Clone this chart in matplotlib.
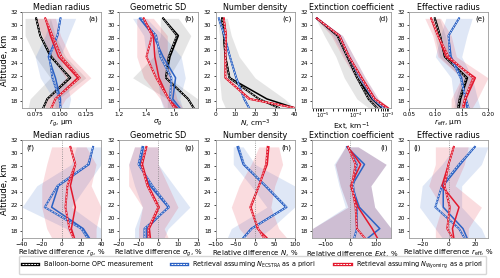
import numpy as np
import matplotlib
matplotlib.use("Agg")
import matplotlib.pyplot as plt
from matplotlib.lines import Line2D

alts = [17, 18.4, 21.7, 25, 28.3, 31]

# ---------- top row: absolute values ----------
# (a) median radius, um
rg_opc = [0.083, 0.087, 0.110, 0.090, 0.080, 0.076]
rg_opc_d = [0.083, 0.087, 0.109, 0.091, 0.080, 0.076]
rg_ecs = [0.100, 0.100, 0.095, 0.088, 0.097, 0.100]
rg_ecs_d = [0.100, 0.099, 0.092, 0.089, 0.097, 0.100]
rg_wyo = [0.091, 0.095, 0.117, 0.098, 0.090, 0.085]
rg_wyo_d = [0.091, 0.095, 0.119, 0.101, 0.092, 0.085]
rg_opc_lo = [0.068, 0.070, 0.090, 0.075, 0.065, 0.065]
rg_opc_hi = [0.098, 0.098, 0.125, 0.105, 0.095, 0.090]
rg_ecs_lo = [0.095, 0.093, 0.080, 0.075, 0.085, 0.090]
rg_ecs_hi = [0.108, 0.110, 0.105, 0.100, 0.108, 0.115]
rg_wyo_lo = [0.085, 0.085, 0.105, 0.090, 0.082, 0.075]
rg_wyo_hi = [0.100, 0.105, 0.130, 0.110, 0.100, 0.095]

# (b) geometric SD
sg_opc = [1.74, 1.70, 1.54, 1.57, 1.63, 1.52]
sg_opc_d = [1.74, 1.70, 1.54, 1.56, 1.62, 1.52]
sg_ecs = [1.64, 1.59, 1.61, 1.52, 1.45, 1.35]
sg_ecs_d = [1.62, 1.57, 1.58, 1.50, 1.47, 1.36]
sg_wyo = [1.62, 1.56, 1.49, 1.46, 1.45, 1.38]
sg_wyo_d = [1.60, 1.56, 1.47, 1.40, 1.44, 1.38]
sg_opc_lo = [1.55, 1.55, 1.30, 1.45, 1.50, 1.50]
sg_opc_hi = [1.77, 1.77, 1.56, 1.65, 1.72, 1.63]
sg_ecs_lo = [1.52, 1.50, 1.48, 1.40, 1.38, 1.30]
sg_ecs_hi = [1.66, 1.64, 1.68, 1.65, 1.52, 1.40]
sg_wyo_lo = [1.53, 1.50, 1.38, 1.33, 1.33, 1.33]
sg_wyo_hi = [1.66, 1.62, 1.58, 1.55, 1.55, 1.45]

# (c) number density, cm-3
n_opc = [40, 26, 7.2, 5.0, 4.2, 3.3]
n_opc_d = [32, 22, 7.0, 5.0, 4.2, 3.3]
n_ecs = [17, 14.5, 10.5, 7.3, 4.5, 1.7]
n_ecs_d = [17, 14.5, 10.5, 7.3, 4.5, 1.7]
n_wyo = [40, 17.5, 5.0, 5.0, 5.5, 4.2]
n_wyo_d = [40, 17.0, 5.0, 5.0, 5.3, 4.2]
n_opc_lo = [5, 3, 2, 2, 2, 1]
n_opc_hi = [40, 35, 20, 12, 8, 6]

# (d) extinction coefficient, km-1
ext_opc = [6.3e-4, 3.2e-4, 1.12e-4, 5.6e-5, 2.8e-5, 6.5e-6]
ext_opc_d = [4.5e-4, 2.5e-4, 1.12e-4, 5.6e-5, 2.8e-5, 6.5e-6]
ext_ecs = [7.9e-4, 4.0e-4, 1.41e-4, 6.3e-5, 3.2e-5, 6.5e-6]
ext_ecs_d = [7.1e-4, 3.5e-4, 1.41e-4, 6.3e-5, 3.2e-5, 6.5e-6]
ext_wyo = [1.0e-3, 4.0e-4, 1.58e-4, 6.3e-5, 3.2e-5, 6.5e-6]
ext_wyo_d = [8.9e-4, 3.8e-4, 1.51e-4, 6.3e-5, 3.2e-5, 6.5e-6]
ext_opc_lo = [2.5e-4, 1.1e-4, 4.5e-5, 2.5e-5, 1.1e-5, 6.0e-6]
ext_opc_hi = [7.9e-4, 3.5e-4, 1.26e-4, 7.1e-5, 3.2e-5, 7.1e-6]
ext_ecs_lo = [5.0e-4, 2.5e-4, 1.0e-4, 4.5e-5, 2.0e-5, 6.0e-6]
ext_ecs_hi = [1.12e-3, 5.0e-4, 2.0e-4, 8.9e-5, 4.0e-5, 7.1e-6]
ext_wyo_lo = [5.0e-4, 2.5e-4, 1.0e-4, 4.0e-5, 1.8e-5, 6.0e-6]
ext_wyo_hi = [1.12e-3, 5.0e-4, 2.0e-4, 8.9e-5, 4.0e-5, 7.1e-6]

# (e) effective radius, um
re_opc = [0.145, 0.148, 0.161, 0.118, 0.109, 0.099]
re_opc_d = [0.143, 0.146, 0.159, 0.118, 0.109, 0.099]
re_ecs = [0.160, 0.157, 0.150, 0.130, 0.125, 0.145]
re_ecs_d = [0.163, 0.158, 0.148, 0.128, 0.125, 0.145]
re_wyo = [0.154, 0.158, 0.176, 0.120, 0.105, 0.092]
re_wyo_d = [0.152, 0.156, 0.172, 0.125, 0.105, 0.092]
re_opc_lo = [0.135, 0.138, 0.150, 0.108, 0.099, 0.090]
re_opc_hi = [0.155, 0.158, 0.170, 0.128, 0.119, 0.108]
re_ecs_lo = [0.140, 0.135, 0.130, 0.100, 0.110, 0.120]
re_ecs_hi = [0.185, 0.180, 0.170, 0.150, 0.160, 0.170]
re_wyo_lo = [0.130, 0.130, 0.150, 0.105, 0.095, 0.080]
re_wyo_hi = [0.170, 0.180, 0.200, 0.140, 0.130, 0.110]

# ---------- bottom row: relative differences, % ----------
drg_ecs = [28, 22, -10, -3, 28, 32]
drg_ecs_d = [26, 20, -17, -4, 27, 32]
drg_wyo = [13, 10, 14, 9, 14, 9]
drg_wyo_d = [12, 8, 4, 6, 14, 9]
drg_ecs_lo = [10, 5, -40, -25, 10, 15]
drg_ecs_hi = [40, 40, 10, 25, 40, 45]
drg_wyo_lo = [-10, -15, -20, -20, -15, -10]
drg_wyo_hi = [35, 35, 40, 30, 35, 25]

dsg_ecs = [-5.8, -5.8, 5.0, -4.2, -9.2, -7.5]
dsg_ecs_d = [-7.0, -7.0, 5.5, -3.0, -10.0, -8.0]
dsg_wyo = [-4.0, -4.5, 0.5, -5.0, -8.0, -6.0]
dsg_wyo_d = [-5.0, -5.0, 0.0, -5.5, -8.5, -6.0]
dsg_ecs_lo = [-12, -12, -8, -12, -15, -12]
dsg_ecs_hi = [3, 5, 16, 8, 0, 0]
dsg_wyo_lo = [-10, -10, -8, -15, -15, -12]
dsg_wyo_hi = [5, 3, 10, 5, 0, 0]

dn_ecs = [-30, -10, 78, 25, -30, -45]
dn_ecs_d = [-28, -8, 80, 27, -28, -42]
dn_wyo = [30, 6, -10, 10, 31, 35]
dn_wyo_d = [22, 8, -12, 10, 28, 32]
dn_ecs_lo = [-70, -60, 30, -10, -55, -55]
dn_ecs_hi = [10, 40, 100, 100, 0, -30]
dn_wyo_lo = [-20, -40, -60, -40, -10, 10]
dn_wyo_hi = [80, 60, 40, 50, 70, 60]

dext_ecs = [70, 115, 35, 5, 55, -15]
dext_ecs_d = [15, 25, 25, 10, 25, -10]
dext_wyo = [105, 85, 30, 0, 40, -10]
dext_wyo_d = [55, 25, 20, 5, 20, -10]
dext_ecs_lo = [-150, -150, -20, -45, -65, -20]
dext_ecs_hi = [160, 160, 95, 80, 140, 30]
dext_wyo_lo = [-150, -150, -10, -40, -60, -20]
dext_wyo_hi = [160, 160, 95, 80, 140, 30]

dre_ecs = [14, 11, -4, -4, 9, 20]
dre_ecs_d = [12, 8, -10, -5, 8, 20]
dre_wyo = [4, 3, 8, -5, 0, 4]
dre_wyo_d = [3, -1, 1, -3, 0, 4]
dre_ecs_lo = [-5, -10, -22, -20, -5, 5]
dre_ecs_hi = [28, 25, 10, 10, 25, 30]
dre_wyo_lo = [-10, -10, -5, -15, -10, -10]
dre_wyo_hi = [15, 15, 25, 5, 12, 15]

titles = ["Median radius", "Geometric SD", "Number density",
          "Extinction coefficient", "Effective radius"]
top_xlabels = [r"$r_g$, μm", r"$\sigma_g$", r"$N$, cm$^{-3}$",
               r"Ext, km$^{-1}$", r"$r_{\rm eff}$, μm"]
bot_xlabels = [r"Relative difference $r_g$, %",
               r"Relative difference $\sigma_g$, %",
               r"Relative difference $N$, %",
               r"Relative difference $Ext$, %",
               r"Relative difference $r_{\rm eff}$, %"]
legend_labels = ["Balloon-borne OPC measurement",
                 r"Retrieval assuming $N_{\rm ECSTRA}$ as a priori",
                 r"Retrieval assuming $N_{\rm Wyoming}$ as a priori"]

C_K = "black"
C_B = "#2c62c4"
C_R = "#e3182d"

plt.rcParams["font.family"] = ["DejaVu Sans"]
fig = plt.figure(figsize=(5.0, 2.78), dpi=100)

L, W, G = 0.044, 0.158, 0.0355
top_b, top_h = 0.612, 0.345
bot_b, bot_h = 0.145, 0.350
axes_top = [fig.add_axes([L + i * (W + G), top_b, W, top_h]) for i in range(5)]
axes_bot = [fig.add_axes([L + i * (W + G), bot_b, W, bot_h]) for i in range(5)]


def draw(ax, series, bands):
    for lo, hi, c, a in bands:
        ax.fill_betweenx(alts, lo, hi, color=c, alpha=a, lw=0)
    for vals, c, ls in series:
        if ls == "-":
            ax.plot(vals, alts, color=c, lw=1.1, ls="-")
        else:
            ax.plot(vals, alts, color=c, lw=1.4, ls="-")
            ax.plot(vals, alts, color="white", lw=0.45, ls=(0, (3, 2)))


top_data = [
    ([(rg_opc, C_K, "-"), (rg_opc_d, C_K, "--"), (rg_ecs, C_B, "-"), (rg_ecs_d, C_B, "--"),
      (rg_wyo, C_R, "-"), (rg_wyo_d, C_R, "--")],
     [(rg_opc_lo, rg_opc_hi, "grey", 0.2), (rg_ecs_lo, rg_ecs_hi, C_B, 0.15),
      (rg_wyo_lo, rg_wyo_hi, C_R, 0.15)]),
    ([(sg_opc, C_K, "-"), (sg_opc_d, C_K, "--"), (sg_ecs, C_B, "-"), (sg_ecs_d, C_B, "--"),
      (sg_wyo, C_R, "-"), (sg_wyo_d, C_R, "--")],
     [(sg_opc_lo, sg_opc_hi, "grey", 0.2), (sg_ecs_lo, sg_ecs_hi, C_B, 0.15),
      (sg_wyo_lo, sg_wyo_hi, C_R, 0.15)]),
    ([(n_opc, C_K, "-"), (n_opc_d, C_K, "--"), (n_ecs, C_B, "-"), (n_ecs_d, C_B, "--"),
      (n_wyo, C_R, "-"), (n_wyo_d, C_R, "--")],
     [(n_opc_lo, n_opc_hi, "grey", 0.2)]),
    ([(ext_opc, C_K, "-"), (ext_opc_d, C_K, "--"), (ext_ecs, C_B, "-"), (ext_ecs_d, C_B, "--"),
      (ext_wyo, C_R, "-"), (ext_wyo_d, C_R, "--")],
     [(ext_opc_lo, ext_opc_hi, "grey", 0.2), (ext_ecs_lo, ext_ecs_hi, C_B, 0.15),
      (ext_wyo_lo, ext_wyo_hi, C_R, 0.15)]),
    ([(re_opc, C_K, "-"), (re_opc_d, C_K, "--"), (re_ecs, C_B, "-"), (re_ecs_d, C_B, "--"),
      (re_wyo, C_R, "-"), (re_wyo_d, C_R, "--")],
     [(re_opc_lo, re_opc_hi, "grey", 0.2), (re_ecs_lo, re_ecs_hi, C_B, 0.15),
      (re_wyo_lo, re_wyo_hi, C_R, 0.15)]),
]
bot_data = [
    ([(drg_ecs, C_B, "-"), (drg_ecs_d, C_B, "--"), (drg_wyo, C_R, "-"), (drg_wyo_d, C_R, "--")],
     [(drg_ecs_lo, drg_ecs_hi, C_B, 0.15), (drg_wyo_lo, drg_wyo_hi, C_R, 0.15)]),
    ([(dsg_ecs, C_B, "-"), (dsg_ecs_d, C_B, "--"), (dsg_wyo, C_R, "-"), (dsg_wyo_d, C_R, "--")],
     [(dsg_ecs_lo, dsg_ecs_hi, C_B, 0.15), (dsg_wyo_lo, dsg_wyo_hi, C_R, 0.15)]),
    ([(dn_ecs, C_B, "-"), (dn_ecs_d, C_B, "--"), (dn_wyo, C_R, "-"), (dn_wyo_d, C_R, "--")],
     [(dn_ecs_lo, dn_ecs_hi, C_B, 0.15), (dn_wyo_lo, dn_wyo_hi, C_R, 0.15)]),
    ([(dext_ecs, C_B, "-"), (dext_ecs_d, C_B, "--"), (dext_wyo, C_R, "-"), (dext_wyo_d, C_R, "--")],
     [(dext_ecs_lo, dext_ecs_hi, C_B, 0.15), (dext_wyo_lo, dext_wyo_hi, "#8b1a4a", 0.2)]),
    ([(dre_ecs, C_B, "-"), (dre_ecs_d, C_B, "--"), (dre_wyo, C_R, "-"), (dre_wyo_d, C_R, "--")],
     [(dre_ecs_lo, dre_ecs_hi, C_B, 0.15), (dre_wyo_lo, dre_wyo_hi, C_R, 0.15)]),
]

top_xlim = [(0.062, 0.14), (1.2, 1.77), (0, 40), (4.7e-6, 1.25e-3), (0.05, 0.20)]
top_xticks = [[0.075, 0.100, 0.125], [1.2, 1.4, 1.6], [0, 10, 20, 30, 40], None,
              [0.05, 0.10, 0.15, 0.20]]
top_fmt = [["0.075", "0.100", "0.125"], ["1.2", "1.4", "1.6"], None, None,
           ["0.05", "0.10", "0.15", "0.20"]]
bot_xlim = [(-40, 40), (-20, 20), (-100, 100), (-150, 160), (-30, 30)]
bot_xticks = [[-40, -20, 0, 20, 40], [-20, -10, 0, 10, 20], [-100, -50, 0, 50, 100],
              [-100, 0, 100], [-20, 0, 20]]
top_letters = ["(a)", "(b)", "(c)", "(d)", "(e)"]
bot_letters = ["(f)", "(g)", "(h)", "(i)", "(j)"]
bot_left = [True, False, False, False, True]

FS_T, FS_L, FS_K, FS_P = 5.8, 5.3, 4.2, 5.0

for i, ax in enumerate(axes_top):
    series, bands = top_data[i]
    draw(ax, series, bands)
    if i == 3:
        ax.set_xscale("log")
    ax.set_xlim(*top_xlim[i])
    if top_xticks[i] is not None:
        ax.set_xticks(top_xticks[i])
        if top_fmt[i] is not None:
            ax.set_xticklabels(top_fmt[i])
    ax.set_title(titles[i], fontsize=FS_T, pad=1.5)
    ax.set_xlabel(top_xlabels[i], fontsize=FS_L, labelpad=0.5 if i != 3 else 0.0)
    ax.text(0.96, 0.96, top_letters[i], transform=ax.transAxes, ha="right", va="top",
            fontsize=FS_P)

for i, ax in enumerate(axes_bot):
    series, bands = bot_data[i]
    draw(ax, series, bands)
    ax.axvline(0, color="grey", lw=0.6, ls=":")
    ax.set_xlim(*bot_xlim[i])
    ax.set_xticks(bot_xticks[i])
    ax.set_title(titles[i], fontsize=FS_T, pad=0.8)
    ax.set_xlabel(bot_xlabels[i], fontsize=5.0, labelpad=0.5)
    if bot_left[i]:
        ax.text(0.05, 0.96, bot_letters[i], transform=ax.transAxes, ha="left", va="top",
                fontsize=FS_P)
    else:
        ax.text(0.96, 0.96, bot_letters[i], transform=ax.transAxes, ha="right", va="top",
                fontsize=FS_P)

for ax in axes_top + axes_bot:
    ax.set_ylim(17, 32)
    ax.set_yticks(range(18, 33, 2))
    ax.tick_params(labelsize=FS_K, length=1.8, width=0.5, pad=1.2)
    for s in ax.spines.values():
        s.set_color("#999999")
        s.set_linewidth(0.6)
axes_top[3].tick_params(axis="x", which="major", pad=0.6, labelsize=3.7)

axes_top[0].set_ylabel("Altitude, km", fontsize=6.0, labelpad=1)
axes_bot[0].set_ylabel("Altitude, km", fontsize=6.0, labelpad=1)

handles = []
for c in (C_K, C_B, C_R):
    h1 = Line2D([], [], color=c, lw=2.4)
    h2 = Line2D([], [], color="white", lw=0.7, ls=(0, (2, 1)))
    handles.append((h1, h2))
fig.legend(handles, legend_labels, loc="center", bbox_to_anchor=(0.505, 0.047), ncol=3,
           fontsize=4.7, frameon=True, handlelength=2.5, columnspacing=2.8,
           handletextpad=0.8, borderpad=0.5, fancybox=True, edgecolor="#cccccc")

fig.savefig("out.png", dpi=100)
